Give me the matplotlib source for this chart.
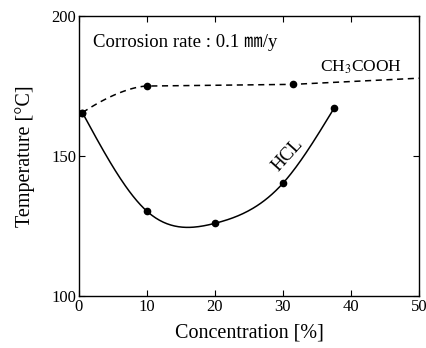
import numpy as np
import matplotlib
matplotlib.use("Agg")
import matplotlib.pyplot as plt

# Data
hcl_x = [0.5, 10, 20, 30, 37.5]
hcl_y = [165.5, 130.3, 126.0, 140.3, 167.0]
ac_x = [0.5, 10, 31.5]
ac_y = [165.5, 175.0, 175.6]
ac_line_end_x = [50]
ac_line_end_y = [177.8]

x_ticks = [0, 10, 20, 30, 40, 50]
y_ticks = [100, 150, 200]

plt.rcParams['font.family'] = ['Liberation Serif', 'Noto Sans CJK JP']
plt.rcParams['mathtext.fontset'] = 'stix'


def natural_spline(x, y, n=200):
    x = np.asarray(x, float)
    y = np.asarray(y, float)
    k = len(x)
    h = np.diff(x)
    A = np.zeros((k, k))
    b = np.zeros(k)
    A[0, 0] = 1
    A[-1, -1] = 1
    for i in range(1, k - 1):
        A[i, i - 1] = h[i - 1]
        A[i, i] = 2 * (h[i - 1] + h[i])
        A[i, i + 1] = h[i]
        b[i] = 3 * ((y[i + 1] - y[i]) / h[i] - (y[i] - y[i - 1]) / h[i - 1])
    c = np.linalg.solve(A, b)
    xs = np.linspace(x[0], x[-1], n)
    ys = np.empty_like(xs)
    for j, xv in enumerate(xs):
        i = min(np.searchsorted(x, xv, side='right') - 1, k - 2)
        i = max(i, 0)
        bb = (y[i + 1] - y[i]) / h[i] - h[i] * (2 * c[i] + c[i + 1]) / 3
        d = (c[i + 1] - c[i]) / (3 * h[i])
        t = xv - x[i]
        ys[j] = y[i] + bb * t + c[i] * t ** 2 + d * t ** 3
    return xs, ys


fig = plt.figure(figsize=(4.27, 3.48), dpi=100)
ax = fig.add_axes([0.185, 0.149, 0.796, 0.805])

xs, ys = natural_spline(hcl_x, hcl_y)
ax.plot(xs, ys, color='black', lw=1.1)
ax.plot(hcl_x, hcl_y, 'o', color='black', ms=4.5)

# acetic acid: curved rise to the second point, then straight dashed segments
t = np.linspace(0, 1, 50)
seg_x = ac_x[0] + (ac_x[1] - ac_x[0]) * t
seg_y = ac_y[1] - (ac_y[1] - ac_y[0]) * (1 - t) ** 1.6
line_x = np.concatenate([seg_x, ac_x[2:], ac_line_end_x])
line_y = np.concatenate([seg_y, ac_y[2:], ac_line_end_y])
ax.plot(line_x, line_y, color='black', lw=1.1, ls=(0, (4, 3)))
ax.plot(ac_x, ac_y, 'o', color='black', ms=4.5)

ax.set_xlim(0, 50)
ax.set_ylim(100, 200)
ax.set_xticks(x_ticks)
ax.set_yticks(y_ticks)
ax.tick_params(direction='in', top=True, right=True, labelsize=12, length=4, pad=2)
ax.set_xticklabels([str(v) for v in x_ticks])
for s in ax.spines.values():
    s.set_linewidth(1.0)

ax.set_xlabel('Concentration [%]', fontsize=14.5, labelpad=6)
ax.set_ylabel('Temperature [°C]', fontsize=14.5, labelpad=12)

ax.text(2.0, 190.7, 'Corrosion rate : 0.1 ㎜/y', fontsize=13.5, va='center', ha='left')
ax.text(35.4, 181.8, r'CH$_3$COOH', fontsize=12.5, va='center', ha='left')
ax.text(30.7, 150.5, 'HCL', fontsize=13.5, rotation=48, va='center', ha='center')

fig.savefig('out.png', dpi=100)
